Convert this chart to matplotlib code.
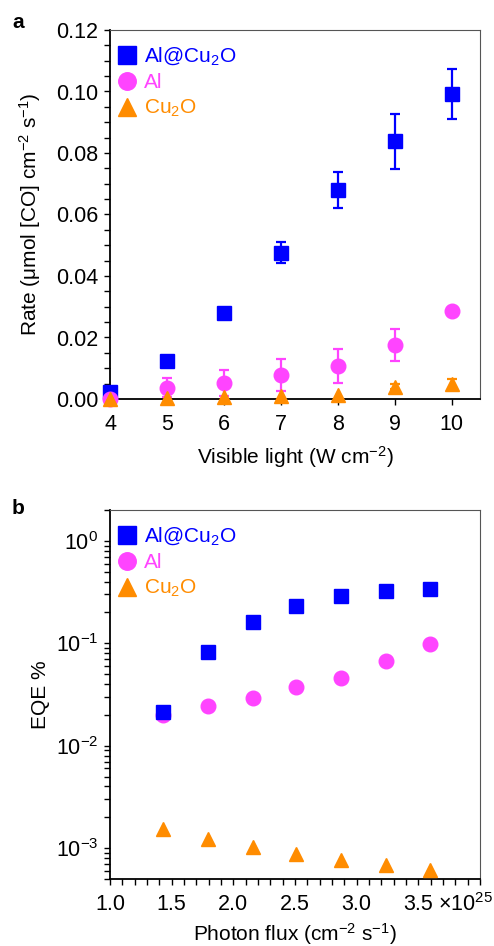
import matplotlib.pyplot as plt
from matplotlib.ticker import MultipleLocator, LogLocator, NullFormatter
import numpy as np

plt.rcParams["font.family"] = ["Liberation Sans", "DejaVu Sans"]
plt.rcParams["mathtext.fontset"] = "custom"
plt.rcParams["mathtext.rm"] = "Liberation Sans"
plt.rcParams["mathtext.it"] = "Liberation Sans:italic"
plt.rcParams["mathtext.bf"] = "Liberation Sans:bold"

BLUE = "#0000FF"
PINK = "#FF44FF"
ORANGE = "#FF8C00"

# panel a: rate vs visible light intensity
light = [4, 5, 6, 7, 8, 9, 10]
rate_alcu2o = [0.0024, 0.0124, 0.0279, 0.0476, 0.0679, 0.0838, 0.0993]
err_alcu2o = [0.0, 0.0, 0.0, 0.0033, 0.0058, 0.0089, 0.0081]
rate_al = [0.0, 0.0037, 0.0051, 0.0078, 0.0107, 0.0176, 0.0285]
err_al = [0.0, 0.0030, 0.0042, 0.0052, 0.0056, 0.0052, 0.0]
rate_cu2o = [0.0, 0.0002, 0.0008, 0.0010, 0.0013, 0.0040, 0.0049]
err_cu2o = [0.0, 0.0, 0.0, 0.0, 0.0, 0.0008, 0.0015]

# panel b: EQE vs photon flux (x in units of 1e25)
flux = [1.433, 1.791, 2.157, 2.511, 2.872, 3.234, 3.595]
eqe_alcu2o = [0.0212, 0.0831, 0.1607, 0.232, 0.288, 0.323, 0.337]
eqe_al = [0.0200, 0.0245, 0.0291, 0.0378, 0.0463, 0.0674, 0.0987]
eqe_cu2o = [0.00153, 0.00122, 0.00102, 0.000873, 0.000769, 0.000682, 0.000614]

LABELS = ["Al@Cu$_2$O", "Al", "Cu$_2$O"]
COLORS = [BLUE, PINK, ORANGE]
MARKERS = ["s", "o", "^"]
MS = 10.5
TICK_FS = 15.5
LABEL_FS = 15


def style_axes(ax):
    for side in ("left", "bottom"):
        ax.spines[side].set_linewidth(1.3)
        ax.spines[side].set_color("black")
    for side in ("top", "right"):
        ax.spines[side].set_linewidth(0.8)
        ax.spines[side].set_color("#555555")
    ax.tick_params(which="both", direction="out", top=False, right=False,
                   labelsize=TICK_FS, width=1.0, color="black")
    ax.tick_params(which="major", length=4.5, pad=4)
    ax.tick_params(axis="x", which="major", pad=6.5)
    ax.tick_params(which="minor", length=4.0)


def add_legend(ax, handles):
    leg = ax.legend(handles, LABELS, loc="upper left", frameon=False, fontsize=15,
                    markerscale=1.2, handletextpad=0.3, handlelength=1.0,
                    labelspacing=0.28, borderaxespad=0.0,
                    bbox_to_anchor=(-0.005, 0.98))
    for text, color in zip(leg.get_texts(), COLORS):
        text.set_color(color)


fig = plt.figure(figsize=(4.94, 9.46), dpi=100)

# --- panel a ---
ax1 = fig.add_axes([110 / 494, 1 - 399 / 946, 370 / 494, 369 / 946])
series_a = [(rate_alcu2o, err_alcu2o), (rate_al, err_al), (rate_cu2o, err_cu2o)]
handles_a = []
for (vals, errs), label, color, marker in zip(series_a, LABELS, COLORS, MARKERS):
    errs = np.array(errs)
    mask = errs > 0
    ax1.errorbar(np.array(light)[mask], np.array(vals)[mask], yerr=errs[mask],
                 fmt="none", ecolor=color, elinewidth=1.6, capsize=3.6,
                 capthick=1.6, clip_on=False, zorder=3)
    h, = ax1.plot(light, vals, linestyle="none", marker=marker, color=color,
                  markersize=MS, label=label, clip_on=False, zorder=4)
    handles_a.append(h)
ax1.set_xlim(4, 10.5)
ax1.set_ylim(0, 0.12)
ax1.set_xticks(light)
ax1.yaxis.set_major_locator(MultipleLocator(0.02))
ax1.yaxis.set_minor_locator(MultipleLocator(0.005))
ax1.yaxis.set_major_formatter(plt.FuncFormatter(lambda v, p: f"{v:.2f}"))
style_axes(ax1)
ax1.set_xlabel("Visible light (W cm$^{\u22122}$)", fontsize=LABEL_FS, labelpad=6)
ax1.set_ylabel("Rate (\u03bcmol [CO] cm$^{\u22122}$ s$^{\u22121}$)", fontsize=LABEL_FS,
               labelpad=9)
add_legend(ax1, handles_a)
fig.text(12 / 494, 1 - 22 / 946, "a", fontsize=15, fontweight="bold", va="center")

# --- panel b ---
ax2 = fig.add_axes([110 / 494, 1 - 879 / 946, 370 / 494, 369 / 946])
series_b = [eqe_alcu2o, eqe_al, eqe_cu2o]
handles_b = [None, None, None]
for i in [1, 0, 2]:
    handles_b[i], = ax2.plot(flux, series_b[i], linestyle="none", marker=MARKERS[i],
                             color=COLORS[i], markersize=MS, label=LABELS[i],
                             zorder=4 if i == 0 else 3)
ax2.set_yscale("log")
ax2.set_xlim(1.0, 4.0)
ax2.set_ylim(5e-4, 2.0)
ax2.set_xticks([1.0, 1.5, 2.0, 2.5, 3.0, 3.5, 4.0])
ax2.set_xticklabels(["1.0", "1.5", "2.0", "2.5", "3.0", "3.5", ""])
ax2.xaxis.set_minor_locator(MultipleLocator(0.1))
ax2.yaxis.set_major_locator(LogLocator(base=10, numticks=10))
ax2.yaxis.set_minor_locator(LogLocator(base=10, subs=np.arange(2, 10), numticks=10))
ax2.yaxis.set_minor_formatter(NullFormatter())
style_axes(ax2)
ax2.set_xlabel("Photon flux (cm$^{\u22122}$ s$^{\u22121}$)", fontsize=LABEL_FS, labelpad=4)
ax2.set_ylabel("EQE %", fontsize=LABEL_FS, labelpad=4)
add_legend(ax2, handles_b)
fig.text(493 / 494, 1 - 893 / 946, "\u00d710$^{25}$", ha="right", va="top",
         fontsize=TICK_FS)
fig.text(12 / 494, 1 - 508 / 946, "b", fontsize=15, fontweight="bold", va="center")

fig.savefig("out.png", dpi=100)
